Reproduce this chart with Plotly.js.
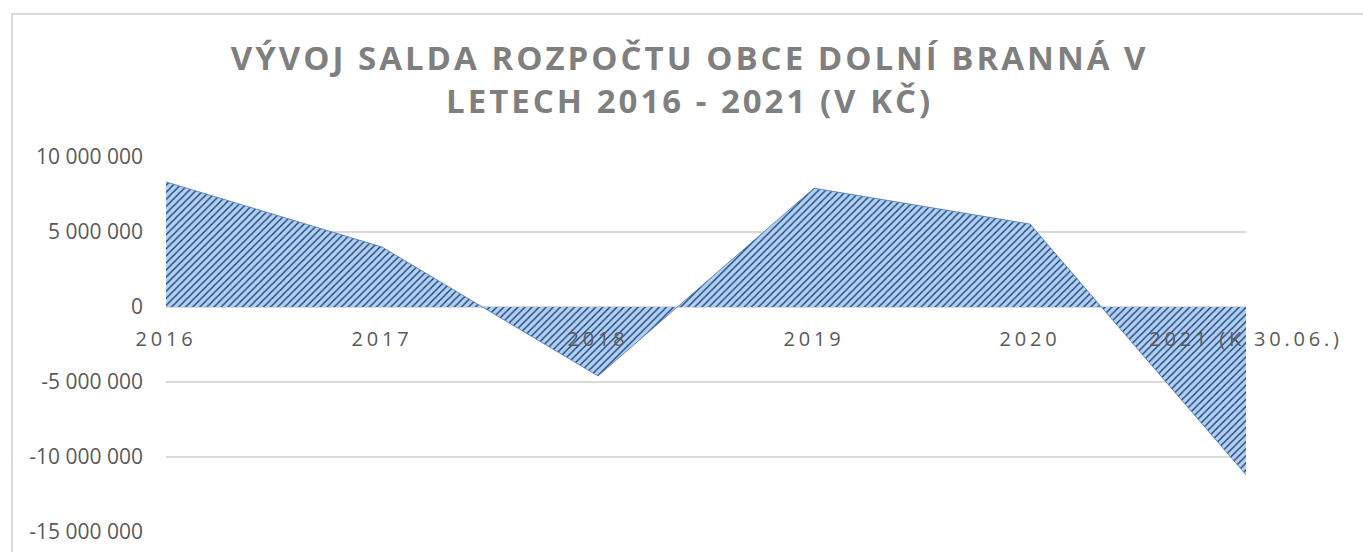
<!DOCTYPE html>
<html>
<head>
<meta charset="utf-8">
<script src="https://cdn.plot.ly/plotly-3.0.1.min.js"></script>
<style>
  html, body { margin: 0; padding: 0; background: #ffffff; overflow: hidden; }
  #chart { width: 1363px; height: 552px; position: absolute; left: 0; top: 0; }
  #frame { position: absolute; left: 11px; top: 13px; width: 1360px; height: 600px;
           border-left: 2px solid #d9d9d9; border-top: 2px solid #d9d9d9; pointer-events: none; z-index: 5; }
  .gtitle { letter-spacing: 3px; }
  .xtick text { letter-spacing: 3.8px; }
</style>
</head>
<body>
<div id="chart"></div>
<div id="frame"></div>
<script>
// Data
const categories = ["2016", "2017", "2018", "2019", "2020", "2021 (K 30.06.)"];
const saldo = [8340000, 4000000, -4600000, 7920000, 5530000, -11190000];
const yTickValues = [10000000, 5000000, 0, -5000000, -10000000, -15000000];
const yTickLabels = ["10 000 000", "5 000 000", "0", "-5 000 000", "-10 000 000", "-15 000 000"];
const titleText = "VÝVOJ SALDA ROZPOČTU OBCE DOLNÍ BRANNÁ V<br>LETECH 2016 - 2021 (V KČ)";

const trace = {
  type: "scatter",
  mode: "lines",
  x: categories,
  y: saldo,
  fill: "tozeroy",
  fillcolor: "#9dc3e6",
  fillpattern: { shape: "/", bgcolor: "#b0d0f2", fgcolor: "#1f3f7a", size: 5, solidity: 0.28 },
  line: { color: "#4a76b8", width: 0.8, shape: "linear" },
  hoverinfo: "x+y",
  showlegend: false
};

const layout = {
  width: 1363,
  height: 552,
  margin: { l: 166, r: 117, t: 157, b: 20, pad: 0 },
  paper_bgcolor: "rgba(0,0,0,0)",
  plot_bgcolor: "rgba(0,0,0,0)",
  font: { family: "Open Sans, sans-serif", color: "#595959" },
  title: {
    text: titleText,
    font: { family: "Open Sans, sans-serif", size: 33, color: "#7f7f7f", weight: "bold" },
    xref: "container",
    x: 0.506,
    xanchor: "center",
    yref: "container",
    y: 1 - 70 / 552,
    yanchor: "top"
  },
  xaxis: {
    type: "category",
    range: [0, categories.length - 1],
    anchor: "free",
    position: 0.6,
    showgrid: false,
    showline: false,
    zeroline: false,
    ticks: "",
    ticklabelstandoff: 18,
    tickfont: { family: "Open Sans, sans-serif", size: 20, color: "#595959" },
    fixedrange: true
  },
  yaxis: {
    range: [-15000000, 10000000],
    tickvals: yTickValues,
    ticktext: yTickLabels,
    showgrid: true,
    gridcolor: "#d9d9d9",
    gridwidth: 1.5,
    zeroline: true,
    zerolinecolor: "#d9d9d9",
    zerolinewidth: 1.5,
    showline: false,
    ticks: "",
    ticklabelstandoff: 22,
    tickfont: { family: "Open Sans, sans-serif", size: 21, color: "#595959" },
    fixedrange: true
  }
};

Plotly.newPlot("chart", [trace], layout, { displayModeBar: false, staticPlot: true });
</script>
</body>
</html>
